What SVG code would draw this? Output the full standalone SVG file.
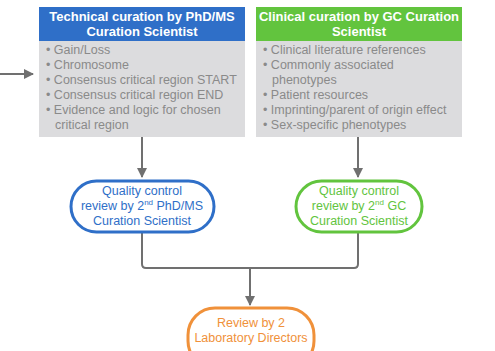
<svg xmlns="http://www.w3.org/2000/svg" width="495" height="351" viewBox="0 0 495 351">
  <style>
    .hdr { font-family: "Liberation Sans", Arial, sans-serif; font-size: 13px; font-weight: bold; fill: #ffffff; text-anchor: middle; }
    .item { font-family: "Liberation Sans", Arial, sans-serif; font-size: 12.5px; fill: #8a8a8a; }
    .pill-txt { font-family: "Liberation Sans", Arial, sans-serif; font-size: 12.5px; text-anchor: middle; }
    .body { fill: #dcdcde; }
    .conn { fill: none; stroke: #707070; stroke-width: 2; }
  </style>
  <defs>
    <marker id="arrow" viewBox="0 0 10 10" refX="9" refY="5" markerWidth="5" markerHeight="5" orient="auto" markerUnits="strokeWidth">
      <path d="M0,0 L10,5 L0,10 Z" fill="#707070"/>
    </marker>
  </defs>

  <g id="connectors">
    <path class="conn" d="M0,74 H33" marker-end="url(#arrow)"/>
    <path class="conn" d="M142,137 V177" marker-end="url(#arrow)"/>
    <path class="conn" d="M358,137 V177" marker-end="url(#arrow)"/>
    <path class="conn" d="M142,232 V264 Q142,268 146,268 H354 Q358,268 358,264 V232"/>
    <path class="conn" d="M250,268 V305" marker-end="url(#arrow)"/>
  </g>

  <g id="technical-curation">
    <rect class="body" x="39" y="41" width="206" height="96"/>
    <rect x="39" y="7" width="206" height="34" fill="#2f6fc8"/>
    <text class="hdr" x="142" y="21">Technical curation by PhD/MS</text>
    <text class="hdr" x="142" y="36">Curation Scientist</text>
    <text class="item" x="46" y="54">• Gain/Loss</text>
    <text class="item" x="46" y="69">• Chromosome</text>
    <text class="item" x="46" y="84">• Consensus critical region START</text>
    <text class="item" x="46" y="99">• Consensus critical region END</text>
    <text class="item" x="46" y="114">• Evidence and logic for chosen</text>
    <text class="item" x="55" y="129">critical region</text>
  </g>

  <g id="clinical-curation">
    <rect class="body" x="256" y="41" width="206" height="96"/>
    <rect x="256" y="7" width="206" height="34" fill="#62c43e"/>
    <text class="hdr" x="359" y="21">Clinical curation by GC Curation</text>
    <text class="hdr" x="359" y="36">Scientist</text>
    <text class="item" x="263" y="54">• Clinical literature references</text>
    <text class="item" x="263" y="69">• Commonly associated</text>
    <text class="item" x="272" y="84">phenotypes</text>
    <text class="item" x="263" y="99">• Patient resources</text>
    <text class="item" x="263" y="114">• Imprinting/parent of origin effect</text>
    <text class="item" x="263" y="129">• Sex-specific phenotypes</text>
  </g>

  <g id="qc-phd">
    <rect x="71" y="181" width="143" height="51" rx="25.5" fill="#ffffff" stroke="#2f6fc8" stroke-width="3"/>
    <text class="pill-txt" fill="#2f6fc8" x="142" y="195">Quality control</text>
    <text class="pill-txt" fill="#2f6fc8" x="142" y="210">review by 2<tspan font-size="8" dy="-5">nd</tspan><tspan dy="5"> PhD/MS</tspan></text>
    <text class="pill-txt" fill="#2f6fc8" x="142" y="225">Curation Scientist</text>
  </g>

  <g id="qc-gc">
    <rect x="296" y="181" width="126" height="51" rx="25.5" fill="#ffffff" stroke="#62c43e" stroke-width="3"/>
    <text class="pill-txt" fill="#62c43e" x="359" y="195">Quality control</text>
    <text class="pill-txt" fill="#62c43e" x="359" y="210">review by 2<tspan font-size="8" dy="-5">nd</tspan><tspan dy="5"> GC</tspan></text>
    <text class="pill-txt" fill="#62c43e" x="359" y="225">Curation Scientist</text>
  </g>

  <g id="lab-directors">
    <rect x="188" y="308" width="126" height="60" rx="27" fill="#ffffff" stroke="#f0913a" stroke-width="3"/>
    <text class="pill-txt" fill="#f0913a" x="251" y="327">Review by 2</text>
    <text class="pill-txt" fill="#f0913a" x="251" y="342">Laboratory Directors</text>
  </g>
</svg>
